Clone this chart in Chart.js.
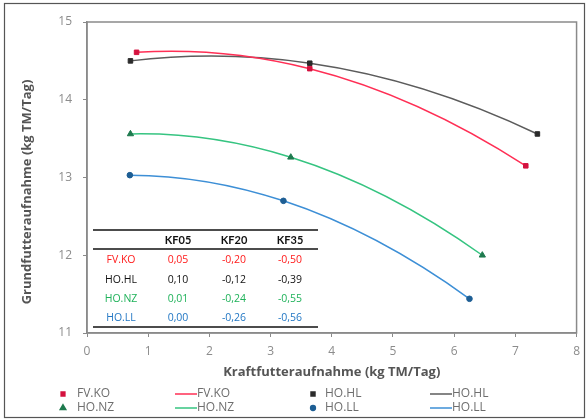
<!DOCTYPE html>
<html>
<head>
<meta charset="utf-8">
<script src="https://cdn.jsdelivr.net/npm/chart.js@4/dist/chart.umd.min.js"></script>
<style>
  html, body { margin: 0; padding: 0; background: #fff; }
  #wrap { width: 587px; height: 419px; }
</style>
</head>
<body>
<div id="wrap"><canvas id="gfChart" width="587" height="419"></canvas></div>
<script>
// Kraftfutter (x) vs. Grundfutter (y) per Gruppe, 3 Stufen je Gruppe
const groups = ['FV.KO', 'HO.HL', 'HO.NZ', 'HO.LL'];
const kfFvKo = [0.81, 3.64, 7.17];
const gfFvKo = [14.61, 14.40, 13.15];
const kfHoHl = [0.71, 3.64, 7.36];
const gfHoHl = [14.50, 14.47, 13.56];
const kfHoNz = [0.71, 3.33, 6.46];
const gfHoNz = [13.56, 13.26, 12.00];
const kfHoLl = [0.70, 3.21, 6.25];
const gfHoLl = [13.03, 12.70, 11.44];

// Verdraengung je Stufe (Tabelle)
const tableCols = ['KF05', 'KF20', 'KF35'];
const verdFvKo = [0.05, -0.20, -0.50];
const verdHoHl = [0.10, -0.12, -0.39];
const verdHoNz = [0.01, -0.24, -0.55];
const verdHoLl = [0.00, -0.26, -0.56];

const xTicks = [0, 1, 2, 3, 4, 5, 6, 7, 8];
const yTicks = [11, 12, 13, 14, 15];
const xTitle = 'Kraftfutteraufnahme (kg TM/Tag)';
const yTitle = 'Grundfutteraufnahme (kg TM/Tag)';

const FONT = '"Open Sans", Lato, sans-serif';
const FONT_NARROW = 'Lato, "Open Sans", sans-serif';

const toPts = (xs, ys) => xs.map((x, i) => ({ x: x, y: ys[i] }));

const series = [
  { xs: kfFvKo, ys: gfFvKo, style: 'rect', size: 3.2, marker: '#d4123f', line: '#ff2f55', text: '#ff1a1a', verd: verdFvKo },
  { xs: kfHoHl, ys: gfHoHl, style: 'rect', size: 3.2, marker: '#2b2b2b', line: '#5c5c5c', text: '#111111', verd: verdHoHl },
  { xs: kfHoNz, ys: gfHoNz, style: 'triangle', size: 3.6, marker: '#1e7a4e', line: '#36c481', text: '#1fb25a', verd: verdHoNz },
  { xs: kfHoLl, ys: gfHoLl, style: 'circle', size: 2.8, marker: '#1d5e94', line: '#3d8fd6', text: '#2277c4', verd: verdHoLl },
];

// pro Gruppe: erst Punkte, dann Trendlinie
const datasets = [];
series.forEach((s, i) => {
  datasets.push({
    label: groups[i],
    data: toPts(s.xs, s.ys),
    showLine: false,
    pointStyle: s.style,
    pointRadius: s.size,
    pointBackgroundColor: s.marker,
    pointBorderColor: s.marker,
    order: 0,
  });
  datasets.push({
    label: groups[i],
    data: toPts(s.xs, s.ys),
    showLine: true,
    trend: true,
    borderColor: s.line,
    borderWidth: 1.5,
    tension: 0.4,
    pointRadius: 0,
    order: 1,
  });
});

const fmt = v => v.toFixed(2).replace('.', ',');

// Trendlinie als Parabel durch die drei Punkte: Bezier-Kontrollpunkte
// aus den Steigungen der Parabel (in Pixeln) an den Stuetzstellen
const parabolaPlugin = {
  id: 'parabola',
  beforeDatasetDraw(chart, args) {
    const ds = chart.data.datasets[args.index];
    if (!ds.trend) return;
    const meta = args.meta;
    meta.dataset.updateControlPoints(chart.chartArea, 'x');
    const p = meta.data;
    if (p.length < 3) return;
    const slope = (k) => {
      const j = Math.min(Math.max(k - 1, 0), p.length - 3);
      const a0 = p[j], a1 = p[j + 1], a2 = p[j + 2];
      const d01 = (a1.y - a0.y) / (a1.x - a0.x);
      const d12 = (a2.y - a1.y) / (a2.x - a1.x);
      const c = (d12 - d01) / (a2.x - a0.x);
      return d01 + c * ((p[k].x - a0.x) + (p[k].x - a1.x));
    };
    const m = p.map((_, k) => slope(k));
    for (let k = 0; k < p.length - 1; k++) {
      const h = (p[k + 1].x - p[k].x) / 3;
      p[k].cp2x = p[k].x + h;
      p[k].cp2y = p[k].y + m[k] * h;
      p[k + 1].cp1x = p[k + 1].x - h;
      p[k + 1].cp1y = p[k + 1].y - m[k + 1] * h;
    }
  }
};

const framePlugin = {
  id: 'frame',
  beforeDraw(chart) {
    const c = chart.ctx;
    c.save();
    c.fillStyle = '#fff';
    c.fillRect(0, 0, chart.width, chart.height);
    c.restore();
  },
  beforeDatasetsDraw(chart) {
    const { ctx: c, chartArea: a } = chart;
    c.save();
    c.strokeStyle = '#8a8a8a';
    c.lineWidth = 1.5;
    c.strokeRect(a.left, a.top, a.right - a.left, a.bottom - a.top);
    c.restore();
  },
  afterDraw(chart) {
    const c = chart.ctx;
    c.save();
    // Rahmen um die ganze Grafik
    c.strokeStyle = '#555';
    c.lineWidth = 1.2;
    c.strokeRect(4.5, 3.5, 580, 414);

    // y-Achsentitel
    c.save();
    c.translate(27, 192);
    c.rotate(-Math.PI / 2);
    c.font = 'bold 13px ' + FONT;
    c.fillStyle = '#555';
    c.textAlign = 'center';
    c.textBaseline = 'middle';
    c.fillText(yTitle, 0, 0);
    c.restore();

    // Tabelle
    c.strokeStyle = '#111';
    c.lineWidth = 1.3;
    [230, 249, 327].forEach(y => {
      c.beginPath(); c.moveTo(93, y); c.lineTo(318, y); c.stroke();
    });
    const colX = [178, 234, 290];
    c.textAlign = 'center';
    c.textBaseline = 'middle';
    c.font = 'bold 11px ' + FONT_NARROW;
    c.fillStyle = '#111';
    tableCols.forEach((t, j) => c.fillText(t, colX[j], 240));
    c.font = '10.5px ' + FONT;
    const rowY = [260, 280, 299, 318];
    series.forEach((s, i) => {
      c.fillStyle = s.text;
      c.fillText(groups[i], 121, rowY[i]);
      s.verd.forEach((v, j) => c.fillText(fmt(v), colX[j], rowY[i]));
    });

    // Legende: 4 Spalten, 2 Zeilen
    const markerX = [63, 313], markerTextX = [77, 325];
    const lineX = [175, 430], lineTextX = [197, 452];
    const legY = [394, 408];
    c.font = '12px ' + FONT;
    c.textAlign = 'left';
    chart.data.datasets.forEach((ds, k) => {
      const row = Math.floor(k / 4), col = k % 4, half = Math.floor(col / 2);
      const y = legY[row];
      if (ds.showLine) {
        c.strokeStyle = ds.borderColor;
        c.lineWidth = 1.5;
        c.beginPath(); c.moveTo(lineX[half], y); c.lineTo(lineX[half] + 22, y); c.stroke();
        c.fillStyle = '#6e6e6e';
        c.fillText(ds.label, lineTextX[half], y);
      } else {
        c.fillStyle = ds.pointBackgroundColor;
        c.strokeStyle = ds.pointBorderColor;
        Chart.helpers.drawPoint(c, { pointStyle: ds.pointStyle, radius: ds.pointRadius - 0.4, rotation: 0, borderWidth: 1 }, markerX[half], y);
        c.fillStyle = '#6e6e6e';
        c.fillText(ds.label, markerTextX[half], y);
      }
    });
    c.restore();
  }
};

const ctx = document.getElementById('gfChart');
const gfChart = new Chart(ctx, {
  type: 'scatter',
  data: { datasets: datasets },
  options: {
    responsive: false,
    animation: false,
    layout: { padding: { left: 0, top: 22, right: 9, bottom: 34 } },
    plugins: { legend: { display: false }, tooltip: { enabled: false } },
    scales: {
      x: {
        type: 'linear',
        min: xTicks[0],
        max: xTicks[xTicks.length - 1],
        afterBuildTicks: s => { s.ticks = xTicks.map(v => ({ value: v })); },
        afterFit: s => { s.height = 52; },
        grid: { drawOnChartArea: false, tickLength: 4, color: '#8a8a8a' },
        border: { color: '#8a8a8a', width: 1.5 },
        ticks: { color: '#8c8c8c', font: { family: FONT, size: 12 }, padding: 7 },
        title: {
          display: true,
          text: xTitle,
          color: '#555',
          font: { family: FONT, size: 13, weight: 'bold' },
          padding: { top: 4, bottom: 5 },
        },
      },
      y: {
        type: 'linear',
        min: yTicks[0],
        max: yTicks[yTicks.length - 1],
        afterBuildTicks: s => { s.ticks = yTicks.map(v => ({ value: v })); },
        afterFit: s => { s.width = 87; },
        grid: { drawOnChartArea: false, tickLength: 4, color: '#8a8a8a' },
        border: { color: '#8a8a8a', width: 1.5 },
        ticks: { color: '#8c8c8c', font: { family: FONT, size: 12 }, padding: 11 },
        title: { display: false },
      },
    },
  },
  plugins: [parabolaPlugin, framePlugin],
});
</script>
</body>
</html>
